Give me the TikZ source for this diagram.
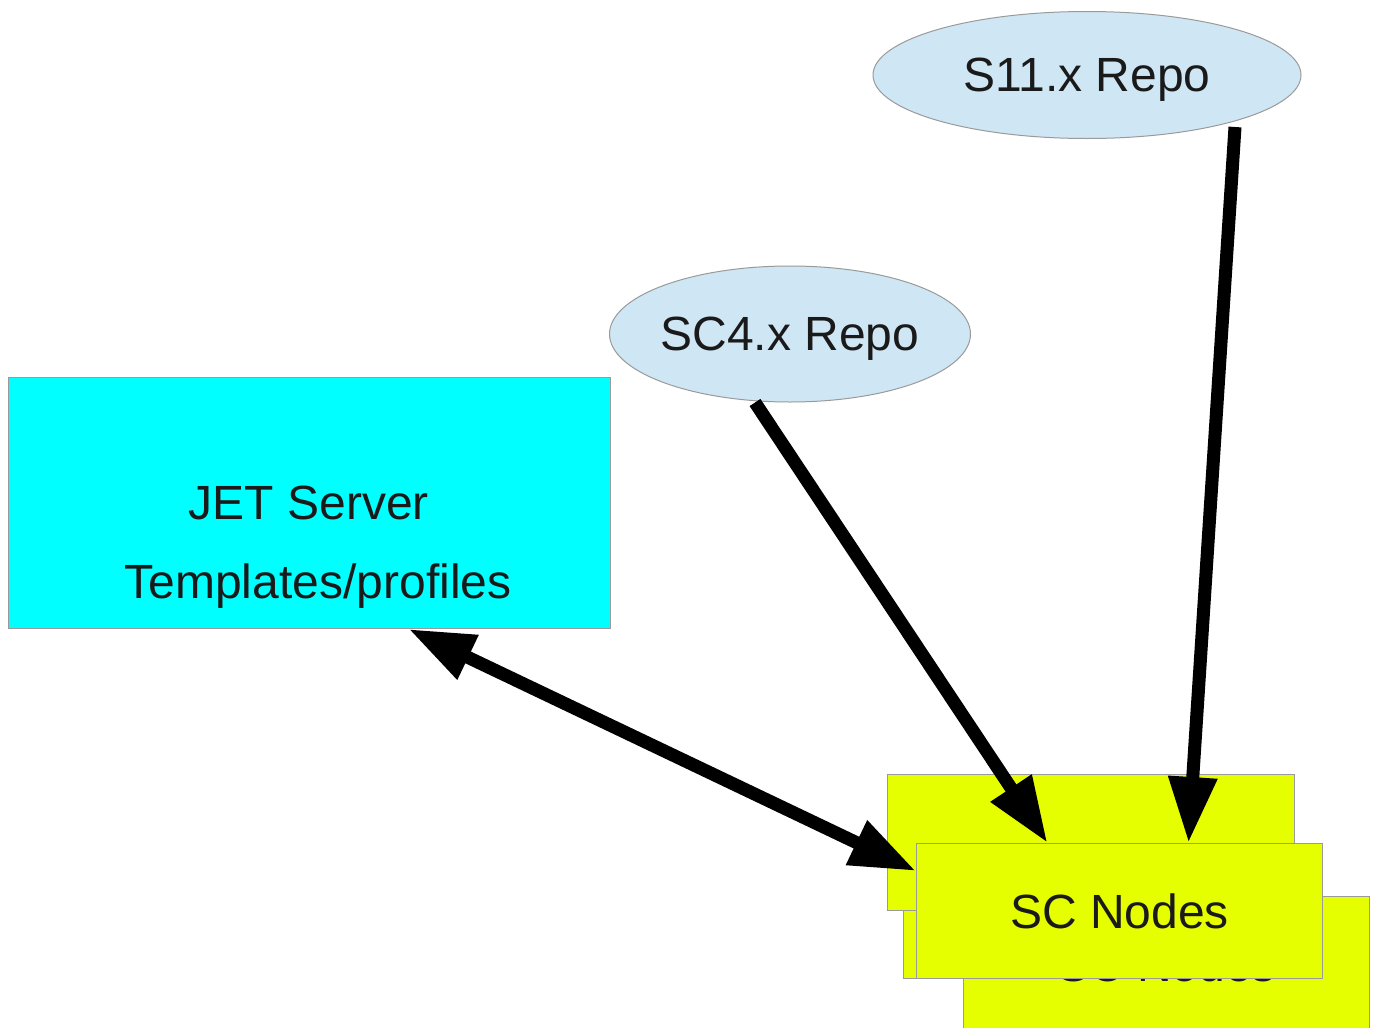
\documentclass[tikz,border=0pt]{standalone}
\usepackage{fontspec}
\setmainfont{Liberation Sans}
\usetikzlibrary{arrows.meta,shapes.geometric}
\definecolor{servercyan}{HTML}{00FFFF}
\definecolor{nodeyellow}{HTML}{E6FF00}
\definecolor{repoblue}{HTML}{CFE6F4}
\definecolor{edgegray}{HTML}{9A9A9A}
\definecolor{inkdark}{HTML}{1A1A1A}
\tikzset{
  bigtext/.style={text=inkdark, font=\fontsize{48}{57}\selectfont},
  box/.style={draw=edgegray, line width=1pt, rectangle, inner sep=0pt, anchor=north west},
  scbox/.style={box, fill=nodeyellow, minimum width=406pt, minimum height=135pt, bigtext},
  repo/.style={draw=edgegray, line width=1pt, ellipse, fill=repoblue, inner sep=0pt,
    inner xsep=-3pt, text depth=0pt, bigtext},
  lbl/.style={bigtext, inner sep=0pt},
  flow/.style={line width=13pt, -{Triangle[length=66pt,width=46pt]}},
  dflow/.style={line width=13pt, {Triangle[length=66pt,width=46pt]}-{Triangle[length=66pt,width=46pt]}}
}
\begin{document}
\begin{tikzpicture}[x=1pt,y=-1pt]
\useasboundingbox (0,0) rectangle (1374,1028);
\clip (0,0) rectangle (1374,1028);

% server box with its two text lines
\node[box, fill=servercyan, minimum width=602pt, minimum height=251pt] (jet) at (8,377) {};
\node[lbl] (jetname) at (309,503) {JET Server};
\node[lbl] (jettpl) at (318,586) {Templates/profiles};

% repositories
\node[repo, minimum width=428pt, minimum height=127pt] (s11) at (1087,75) {S11.x Repo};
\node[repo, minimum width=361pt, minimum height=136pt] (sc4) at (790,334) {SC4.x Repo};

% stacked SC node boxes, back to front
\node[scbox] (nodeC) at (963,896) {SC Nodes};
\node[scbox, minimum width=405pt] (nodeB) at (903,843) {};
\node[scbox, minimum height=136pt, minimum width=407pt] (nodeA) at (887,774) {};
\node[scbox] (front) at (916,843) {SC Nodes};

% connectors
\draw[flow] ([xshift=148pt,yshift=-52pt]s11.center) -- ([xshift=69pt]front.north);
\draw[flow] ([xshift=-35pt]sc4.south) -- ([xshift=-72pt]front.north);
\draw[dflow] ([xshift=99pt]jet.south) -- ([yshift=40pt]front.west);
\end{tikzpicture}
\end{document}
